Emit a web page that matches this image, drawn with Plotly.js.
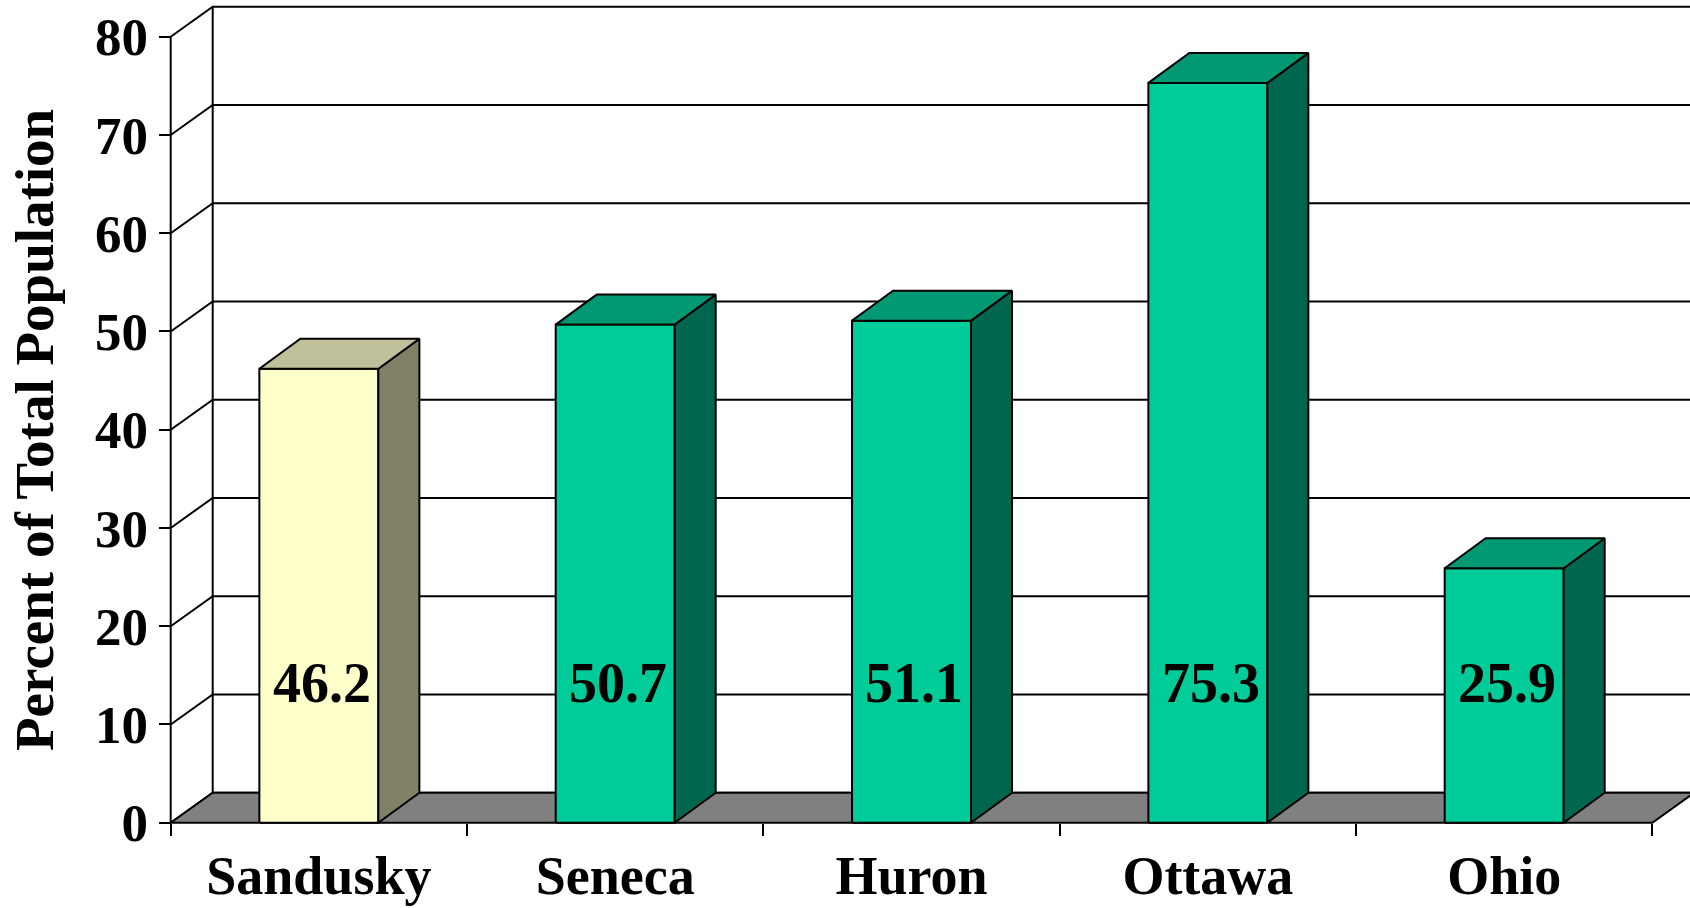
<!DOCTYPE html>
<html>
<head>
<meta charset="utf-8">
<script src="https://cdn.plot.ly/plotly-3.0.1.min.js"></script>
<style>html,body{margin:0;padding:0;background:#fff;}#chart{width:1690px;height:908px;}</style>
</head>
<body>
<div id="chart"></div>
<script>
// ---- data ----
const categories = ['Sandusky', 'Seneca', 'Huron', 'Ottawa', 'Ohio'];
const values = [46.2, 50.7, 51.1, 75.3, 25.9];
const yTickValues = [0, 10, 20, 30, 40, 50, 60, 70, 80];
const yAxisTitle = 'Percent of Total Population';

// ---- styles ----
const frontColors = ['#FFFFCC', '#00CC99', '#00CC99', '#00CC99', '#00CC99'];
const topColors   = ['#C0C09A', '#009973', '#009973', '#009973', '#009973'];
const sideColors  = ['#808064', '#00674E', '#00674E', '#00674E', '#00674E'];
const FONT = 'Liberation Serif, Times New Roman, serif';

// ---- geometry (pixels -> axis units) ----
const W = 1690, H = 908;
const Ux = 296.33, Uy = 9.825;       // px per unit
const x0px = 170.7, y0px = 822.7;    // position of category edge -0.5 / value 0
const plotLeftPx = 160, plotBottomPx = 832;
const wallDX = 42 / Ux, wallDY = 30 / Uy;
const barDX = 41 / Ux, barDY = 30 / Uy;
const barW = 119 / Ux;
const xStart = -0.5, xEnd = categories.length - 0.5;
const xRange = [xStart - (x0px - plotLeftPx) / Ux, xStart + (W - x0px) / Ux];
const yRange = [-(plotBottomPx - y0px) / Uy, y0px / Uy];
const yMax = yTickValues[yTickValues.length - 1];
const labelLevel = 14.2;

const traces = [];
const lineStyle = {color: '#000', width: 2};

// back-wall gridlines with depth diagonals
const gx = [], gy = [];
yTickValues.forEach(v => {
  gx.push(xStart, xStart + wallDX, xRange[1] + 1, null);
  gy.push(v, v + wallDY, v + wallDY, null);
});
traces.push({type: 'scatter', mode: 'lines', x: gx, y: gy, line: lineStyle, hoverinfo: 'skip', showlegend: false});
// back wall left edge
traces.push({type: 'scatter', mode: 'lines', x: [xStart + wallDX, xStart + wallDX], y: [wallDY, yMax + wallDY],
  line: lineStyle, hoverinfo: 'skip', showlegend: false});
// floor
traces.push({type: 'scatter', mode: 'lines', fill: 'toself', fillcolor: '#808080',
  x: [xStart, xEnd, xEnd + wallDX, xStart + wallDX, xStart],
  y: [0, 0, wallDY, wallDY, 0], line: lineStyle, hoverinfo: 'skip', showlegend: false});
// front value axis line
traces.push({type: 'scatter', mode: 'lines', x: [xStart, xStart], y: [0, yMax],
  line: lineStyle, hoverinfo: 'skip', showlegend: false});

// bars: front, side, top
values.forEach((v, i) => {
  const l = i - barW / 2, r = i + barW / 2;
  traces.push({type: 'scatter', mode: 'lines', fill: 'toself', fillcolor: frontColors[i],
    x: [l, r, r, l, l], y: [0, 0, v, v, 0], line: lineStyle, name: categories[i],
    text: categories[i] + ': ' + v, hoverinfo: 'text', showlegend: false});
  traces.push({type: 'scatter', mode: 'lines', fill: 'toself', fillcolor: sideColors[i],
    x: [r, r + barDX, r + barDX, r, r], y: [0, barDY, v + barDY, v, 0], line: lineStyle,
    hoverinfo: 'skip', showlegend: false});
  traces.push({type: 'scatter', mode: 'lines', fill: 'toself', fillcolor: topColors[i],
    x: [l, r, r + barDX, l + barDX, l], y: [v, v, v + barDY, v + barDY, v], line: lineStyle,
    hoverinfo: 'skip', showlegend: false});
});

const annotations = values.map((v, i) => ({
  x: i + 0.01, y: labelLevel, xref: 'x', yref: 'y', text: v.toFixed(1), showarrow: false,
  xanchor: 'center', yanchor: 'middle',
  font: {family: FONT, size: 56, weight: 700, color: '#000'}
}));
annotations.push({
  x: 34 / W, y: 1 - 430 / H, xref: 'paper', yref: 'paper', text: yAxisTitle, showarrow: false,
  textangle: -90, xanchor: 'center', yanchor: 'middle',
  font: {family: FONT, size: 55, weight: 700, color: '#000'}
});

const layout = {
  width: W, height: H,
  margin: {l: 0, r: 0, t: 0, b: 0, pad: 0},
  paper_bgcolor: '#fff', plot_bgcolor: '#fff',
  showlegend: false,
  xaxis: {
    domain: [plotLeftPx / W, 1], range: xRange, fixedrange: true,
    anchor: 'free', position: (H - y0px) / H,
    tickmode: 'array', tickvals: categories.map((c, i) => i), ticktext: categories,
    ticks: '', showline: false, showgrid: false, zeroline: false,
    tickfont: {family: FONT, size: 54, weight: 700, color: '#000'},
    ticklabelstandoff: 16,
    minor: {tickmode: 'array', tickvals: categories.concat(['']).map((c, i) => i - 0.5),
      ticks: 'outside', ticklen: 12, tickwidth: 2, tickcolor: '#000', showgrid: false}
  },
  yaxis: {
    domain: [(H - plotBottomPx) / H, 1], range: yRange, fixedrange: true,
    anchor: 'free', position: x0px / W,
    tickmode: 'array', tickvals: yTickValues,
    ticks: 'outside', ticklen: 12, tickwidth: 2, tickcolor: '#000',
    showline: false, showgrid: false, zeroline: false,
    tickfont: {family: FONT, size: 53, weight: 700, color: '#000'}
  },
  annotations: annotations
};

Plotly.newPlot('chart', traces, layout, {displayModeBar: false, staticPlot: false});
</script>
</body>
</html>
